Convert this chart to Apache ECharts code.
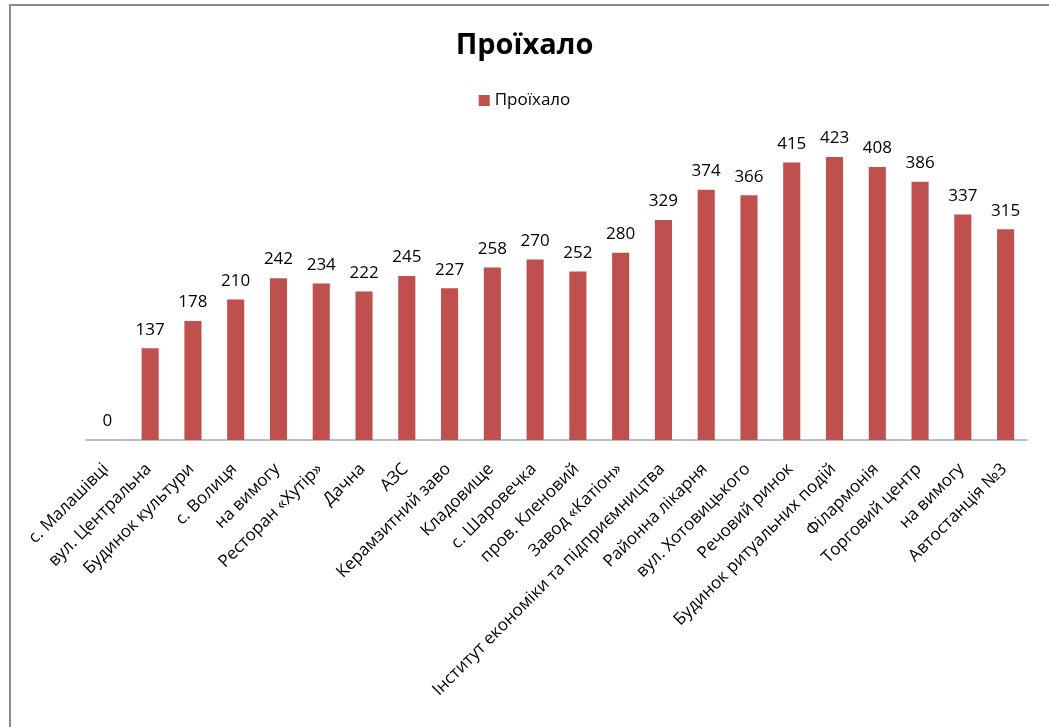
<!DOCTYPE html>
<html>
<head>
<meta charset="utf-8">
<script src="https://cdn.jsdelivr.net/npm/echarts@6/dist/echarts.min.js"></script>
<style>
  html, body { margin: 0; padding: 0; background: #fff; }
  #chart { width: 1049px; height: 727px; }
</style>
</head>
<body>
<div id="chart"></div>
<script>
// Bus stops along the route
const stops = [
  'с. Малашівці', 'вул. Центральна', 'Будинок культури', 'с. Волиця', 'на вимогу',
  'Ресторан «Хутір»', 'Дачна', 'АЗС', 'Керамзитний заво', 'Кладовище',
  'с. Шаровечка', 'пров. Кленовий', 'Завод «Катіон»', 'Інститут економіки та підприємництва',
  'Районна лікарня', 'вул. Хотовицького', 'Речовий ринок', 'Будинок ритуальних подій',
  'Філармонія', 'Торговий центр', 'на вимогу', 'Автостанція №3'
];
// Passengers carried past each stop
const passed = [0, 137, 178, 210, 242, 234, 222, 245, 227, 258, 270, 252, 280, 329,
  374, 366, 415, 423, 408, 386, 337, 315];

const seriesName = 'Проїхало';
const FONT = '"Open Sans", "Noto Sans", sans-serif';

const chart = echarts.init(document.getElementById('chart'));
chart.setOption({
  backgroundColor: '#ffffff',
  animation: false,
  title: {
    text: seriesName,
    left: 'center',
    top: 26,
    textStyle: { fontFamily: FONT, fontWeight: 'bold', fontSize: 29, color: '#000' }
  },
  legend: {
    data: [seriesName],
    top: 87,
    left: 'center',
    icon: 'rect',
    itemWidth: 11,
    itemHeight: 11,
    itemGap: 5,
    textStyle: { fontFamily: FONT, fontSize: 17, color: '#000' }
  },
  graphic: [{
    type: 'rect',
    shape: { x: 10, y: 5, width: 1200, height: 900 },
    style: { fill: 'none', stroke: '#8a8a8a', lineWidth: 2 },
    silent: true
  }],
  grid: { left: 86, right: 22, top: 139, bottom: 287, containLabel: false },
  xAxis: {
    type: 'category',
    data: stops,
    axisLine: { show: true, lineStyle: { color: '#bfbfbf', width: 2 } },
    axisTick: { show: false },
    axisLabel: {
      interval: 0,
      rotate: 45,
      margin: 25,
      padding: [0, 2, 0, 0],
      fontFamily: FONT,
      fontSize: 17,
      color: '#000'
    }
  },
  yAxis: {
    type: 'value',
    min: 0,
    max: 450,
    interval: 50,
    show: false,
    splitLine: { show: false }
  },
  series: [{
    name: seriesName,
    type: 'bar',
    data: passed,
    barWidth: '40%',
    itemStyle: { color: '#c0504d' },
    label: {
      show: true,
      position: 'top',
      distance: 10,
      fontFamily: FONT,
      fontSize: 17,
      color: '#000'
    }
  }]
});
</script>
</body>
</html>
